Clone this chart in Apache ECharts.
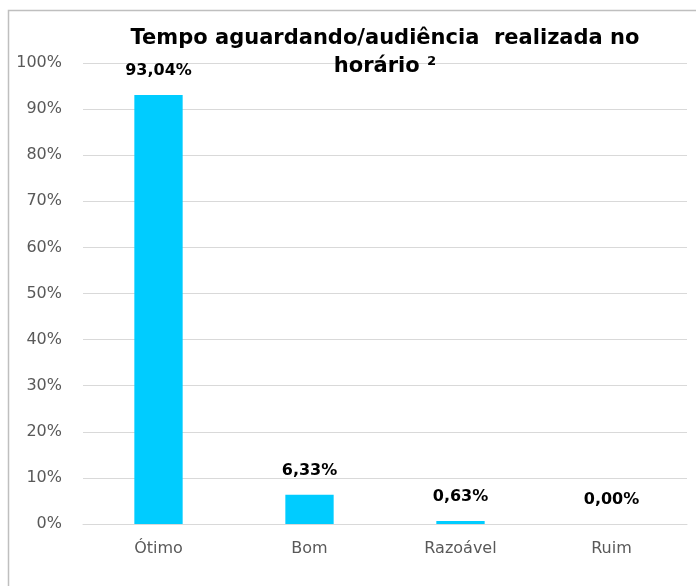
<!DOCTYPE html>
<html>
<head>
<meta charset="utf-8">
<script src="https://cdn.jsdelivr.net/npm/echarts@6/dist/echarts.min.js"></script>
<style>html,body{margin:0;padding:0;background:#fff;}#c{width:696px;height:586px;}</style>
</head>
<body>
<div id="c"></div>
<script>
var titleText = 'Tempo aguardando/audiência  realizada no\nhorário ²';
var categories = ['Ótimo', 'Bom', 'Razoável', 'Ruim'];
var values = [93.04, 6.33, 0.63, 0.00];
var yMin = 0, yMax = 100, yStep = 10;

var chart = echarts.init(document.getElementById('c'), null, {renderer: 'canvas'});
chart.setOption({
  animation: false,
  backgroundColor: '#ffffff',
  graphic: [{
    type: 'rect', silent: true, z: 100,
    shape: {x: 8.5, y: 10.5, width: 720, height: 620},
    style: {fill: 'none', stroke: '#bfbfbf', lineWidth: 1.5}
  }],
  title: {
    text: titleText,
    left: 380, top: 20, textAlign: 'center',
    textStyle: {fontFamily: 'DejaVu Sans', fontWeight: 'bold', fontSize: 21, color: '#000', lineHeight: 28}
  },
  grid: {left: 83, right: 9, top: 63, bottom: 62, containLabel: false},
  xAxis: {
    type: 'category', data: categories,
    axisLine: {show: true, lineStyle: {color: '#d9d9d9', width: 1}},
    axisTick: {show: false},
    axisLabel: {fontFamily: 'DejaVu Sans', fontSize: 16, color: '#595959', margin: 17}
  },
  yAxis: {
    type: 'value', min: yMin, max: yMax, interval: yStep,
    axisLine: {show: false}, axisTick: {show: false},
    splitLine: {lineStyle: {color: '#d9d9d9', width: 1}},
    axisLabel: {fontFamily: 'DejaVu Sans', fontSize: 16, color: '#595959', margin: 21, formatter: '{value}%'}
  },
  series: [{
    type: 'bar', data: values, barWidth: '32%',
    itemStyle: {color: '#00ccff'},
    label: {
      show: true, position: 'top', distance: 16,
      fontFamily: 'DejaVu Sans', fontWeight: 'bold', fontSize: 16, color: '#000',
      formatter: function (p) { return p.value.toFixed(2).replace('.', ',') + '%'; }
    }
  }]
});
</script>
</body>
</html>
